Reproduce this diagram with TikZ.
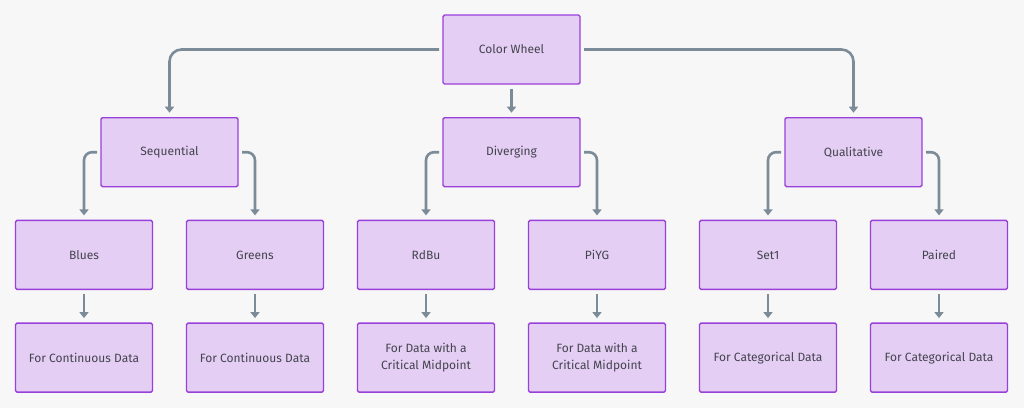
\documentclass[tikz,border=0pt]{standalone}
\usepackage{fontspec}
\setmainfont{Fira Sans}
\usetikzlibrary{arrows.meta,positioning}
\definecolor{page-bg}{HTML}{F7F7F7}
\definecolor{box-fill}{HTML}{E4CEF4}
\definecolor{box-line}{HTML}{9A40DA}
\definecolor{box-text}{HTML}{44444F}
\definecolor{link-grey}{HTML}{7B8B98}

\begin{document}
\begin{tikzpicture}[
    box/.style={rectangle, draw=box-line, fill=box-fill, line width=1.4pt, rounded corners=1.5pt,
                minimum width=137pt, minimum height=69pt, outer sep=0pt, align=center,
                font=\fontsize{12}{17}\selectfont, text=box-text},
    link/.style={-{Triangle[width=9pt,length=6pt]}, line width=2.6pt, draw=link-grey},
    node distance=33.7pt
]
  % page
  \fill[page-bg] (0pt,0pt) rectangle (1024pt,-408pt);
  \useasboundingbox (0pt,0pt) rectangle (1024pt,-408pt);

  % Root
  \node[box] (wheel) at (511.5pt,-49.5pt) {Color Wheel};

  % Schemes
  \node[box, below=of wheel] (div) {Diverging};
  \node[box, left=205pt of div] (seq) {Sequential};
  \node[box, right=205pt of div] (qual) {Qualitative};

  % Palettes
  \node[box, below=of seq, xshift=-85.5pt] (blues) {Blues};
  \node[box, below=of seq, xshift=85.5pt] (greens) {Greens};
  \node[box, below=of div, xshift=-85.5pt] (rdbu) {RdBu};
  \node[box, below=of div, xshift=85.5pt] (piyg) {PiYG};
  \node[box, below=of qual, xshift=-85.5pt] (set) {Set1};
  \node[box, below=of qual, xshift=85.5pt] (paired) {Paired};

  % Uses
  \node[box, below=of blues] (blues-use) {For Continuous Data};
  \node[box, below=of greens] (greens-use) {For Continuous Data};
  \node[box, below=of rdbu] (rdbu-use) {For Data with a\\Critical Midpoint};
  \node[box, below=of piyg] (piyg-use) {For Data with a\\Critical Midpoint};
  \node[box, below=of set] (set-use) {For Categorical Data};
  \node[box, below=of paired] (paired-use) {For Categorical Data};

  % Arrows
  \draw[link, rounded corners=12pt] ([xshift=-4pt]wheel.west) -| ([yshift=5pt]seq.north);
  \draw[link] ([yshift=-5pt]wheel.south) -- ([yshift=5pt]div.north);
  \draw[link, rounded corners=12pt] ([xshift=4pt]wheel.east) -| ([yshift=5pt]qual.north);

  \draw[link, rounded corners=8pt] ([xshift=-4pt]seq.west) -| ([yshift=5pt]blues.north);
  \draw[link, rounded corners=8pt] ([xshift=4pt]seq.east) -| ([yshift=5pt]greens.north);
  \draw[link, rounded corners=8pt] ([xshift=-4pt]div.west) -| ([yshift=5pt]rdbu.north);
  \draw[link, rounded corners=8pt] ([xshift=4pt]div.east) -| ([yshift=5pt]piyg.north);
  \draw[link, rounded corners=8pt] ([xshift=-4pt]qual.west) -| ([yshift=5pt]set.north);
  \draw[link, rounded corners=8pt] ([xshift=4pt]qual.east) -| ([yshift=5pt]paired.north);

  \draw[link] ([yshift=-5pt]blues.south) -- ([yshift=5pt]blues-use.north);
  \draw[link] ([yshift=-5pt]greens.south) -- ([yshift=5pt]greens-use.north);
  \draw[link] ([yshift=-5pt]rdbu.south) -- ([yshift=5pt]rdbu-use.north);
  \draw[link] ([yshift=-5pt]piyg.south) -- ([yshift=5pt]piyg-use.north);
  \draw[link] ([yshift=-5pt]set.south) -- ([yshift=5pt]set-use.north);
  \draw[link] ([yshift=-5pt]paired.south) -- ([yshift=5pt]paired-use.north);

\end{tikzpicture}
\end{document}
